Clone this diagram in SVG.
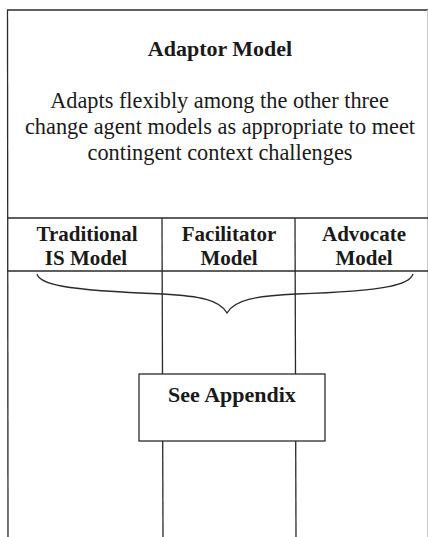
<svg xmlns="http://www.w3.org/2000/svg" width="428" height="537" viewBox="0 0 428 537">
<style>
.ln{stroke:#2a2a2a;stroke-width:1.3;fill:none}
.box{stroke:#2a2a2a;stroke-width:1.3;fill:#ffffff}
.t{font-family:"Liberation Serif","Times New Roman",serif;fill:#1a1a1a;text-anchor:middle}
.b{font-weight:bold}
.body{font-size:22.3px}
</style>
<rect width="428" height="537" fill="#ffffff"/>
<g id="connectors">
<line class="ln" x1="162" y1="218" x2="163" y2="537"/>
<line class="ln" x1="295" y1="218" x2="296" y2="537"/>
<path class="ln" d="M37,274 C40,284 60,290 163,294 C200,296 220,300 227,313 C234,300 255,296 296,294 C390,291 410,284 413,274"/>
</g>
<g id="adaptor">
<line class="ln" x1="7" y1="10" x2="428" y2="10"/>
<line class="ln" x1="7.5" y1="10" x2="8" y2="537"/>
<line x1="427.5" y1="10" x2="427.5" y2="537" stroke="#c8c8c8" stroke-width="1"/>
<line class="ln" x1="7" y1="218" x2="428" y2="218"/>
<text class="t b" x="220" y="56" font-size="22">Adaptor Model</text>
<text class="t body" x="219.5" y="108">Adapts flexibly among the other three</text>
<text class="t body" x="220" y="134">change agent models as appropriate to meet</text>
<text class="t body" x="220" y="160">contingent context challenges</text>
</g>
<g id="traditional">
<text class="t b" x="87" y="241" font-size="21">Traditional</text>
<text class="t b" x="86" y="265" font-size="21">IS Model</text>
</g>
<g id="facilitator">
<text class="t b" x="229" y="241" font-size="21">Facilitator</text>
<text class="t b" x="229" y="265" font-size="21">Model</text>
</g>
<g id="advocate">
<text class="t b" x="364" y="241" font-size="21">Advocate</text>
<text class="t b" x="364" y="265" font-size="21">Model</text>
</g>
<line class="ln" x1="7" y1="271" x2="428" y2="271"/>
<g id="appendix">
<rect class="box" x="139" y="374" width="186" height="67"/>
<text class="t b" x="232" y="402" font-size="22">See Appendix</text>
</g>
</svg>
